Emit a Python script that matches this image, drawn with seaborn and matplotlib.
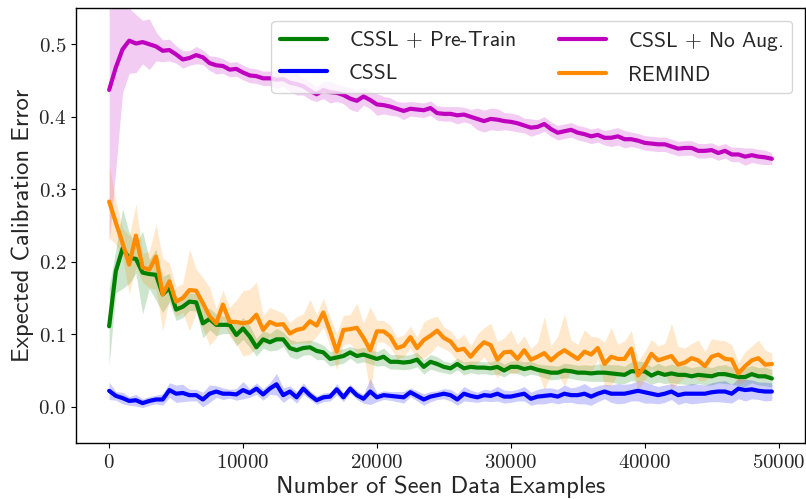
import numpy as np
import pandas as pd
import matplotlib
matplotlib.use("Agg")
import matplotlib.pyplot as plt
from matplotlib.ticker import FuncFormatter
import seaborn as sns

# number of seen data examples (evaluation every 500 examples)
seen = np.arange(0, 50000, 500)

pretrain_mean = [
    0.111, 0.187, 0.218, 0.205, 0.204, 0.185, 0.183, 0.182, 0.155, 0.164,
    0.134, 0.138, 0.145, 0.144, 0.115, 0.121, 0.113, 0.113, 0.113, 0.099,
    0.108, 0.097, 0.082, 0.093, 0.089, 0.093, 0.093, 0.081, 0.078, 0.081,
    0.082, 0.077, 0.075, 0.066, 0.068, 0.070, 0.075, 0.070, 0.072, 0.069,
    0.066, 0.069, 0.062, 0.062, 0.061, 0.062, 0.065, 0.055, 0.062, 0.059,
    0.055, 0.053, 0.059, 0.053, 0.055, 0.054, 0.054, 0.053, 0.055, 0.050,
    0.055, 0.055, 0.052, 0.054, 0.051, 0.049, 0.047, 0.047, 0.050, 0.049,
    0.047, 0.047, 0.046, 0.047, 0.047, 0.046, 0.045, 0.044, 0.049, 0.049,
    0.049, 0.043, 0.047, 0.044, 0.046, 0.044, 0.044, 0.042, 0.044, 0.043,
    0.042, 0.045, 0.045, 0.043, 0.041, 0.041, 0.045, 0.042, 0.042, 0.039,
]
pretrain_band = [
    0.053, 0.030, 0.055, 0.035, 0.020, 0.057, 0.020, 0.035, 0.025, 0.020,
    0.015, 0.015, 0.012, 0.012, 0.020, 0.015, 0.015, 0.012, 0.012, 0.015,
    0.015, 0.015, 0.012, 0.012, 0.012, 0.015, 0.010, 0.012, 0.012, 0.010,
    0.010, 0.012, 0.010, 0.010, 0.010, 0.010, 0.008, 0.010, 0.010, 0.010,
    0.010, 0.012, 0.010, 0.010, 0.010, 0.010, 0.010, 0.010, 0.010, 0.010,
    0.008, 0.008, 0.008, 0.009, 0.008, 0.009, 0.008, 0.009, 0.010, 0.009,
    0.008, 0.009, 0.010, 0.009, 0.008, 0.009, 0.010, 0.009, 0.010, 0.010,
    0.010, 0.011, 0.011, 0.012, 0.012, 0.012, 0.013, 0.012, 0.013, 0.014,
    0.013, 0.012, 0.013, 0.012, 0.013, 0.012, 0.013, 0.012, 0.012, 0.013,
    0.012, 0.012, 0.013, 0.012, 0.012, 0.013, 0.012, 0.012, 0.013, 0.012,
]

cssl_mean = [
    0.022, 0.015, 0.012, 0.008, 0.009, 0.005, 0.008, 0.010, 0.010, 0.023,
    0.018, 0.019, 0.016, 0.016, 0.010, 0.018, 0.021, 0.018, 0.018, 0.017,
    0.023, 0.019, 0.025, 0.017, 0.025, 0.031, 0.016, 0.021, 0.013, 0.025,
    0.016, 0.009, 0.013, 0.014, 0.024, 0.013, 0.025, 0.016, 0.011, 0.021,
    0.013, 0.016, 0.015, 0.014, 0.013, 0.020, 0.015, 0.010, 0.014, 0.016,
    0.018, 0.016, 0.010, 0.018, 0.015, 0.013, 0.016, 0.015, 0.018, 0.014,
    0.014, 0.016, 0.018, 0.011, 0.014, 0.015, 0.016, 0.014, 0.018, 0.016,
    0.016, 0.018, 0.014, 0.018, 0.021, 0.018, 0.018, 0.018, 0.020, 0.022,
    0.020, 0.018, 0.016, 0.018, 0.021, 0.016, 0.018, 0.018, 0.018, 0.018,
    0.020, 0.021, 0.021, 0.018, 0.025, 0.023, 0.024, 0.022, 0.021, 0.021,
]
cssl_band = [
    0.012, 0.006, 0.008, 0.006, 0.008, 0.006, 0.006, 0.006, 0.008, 0.010,
    0.012, 0.012, 0.008, 0.008, 0.010, 0.012, 0.008, 0.008, 0.006, 0.008,
    0.012, 0.006, 0.008, 0.008, 0.008, 0.015, 0.010, 0.008, 0.008, 0.008,
    0.006, 0.006, 0.006, 0.006, 0.008, 0.006, 0.006, 0.006, 0.006, 0.018,
    0.006, 0.006, 0.006, 0.007, 0.008, 0.006, 0.007, 0.008, 0.007, 0.006,
    0.007, 0.008, 0.008, 0.010, 0.008, 0.007, 0.008, 0.008, 0.010, 0.009,
    0.008, 0.008, 0.010, 0.009, 0.010, 0.011, 0.010, 0.010, 0.012, 0.010,
    0.012, 0.014, 0.012, 0.011, 0.010, 0.012, 0.014, 0.013, 0.012, 0.014,
    0.015, 0.013, 0.012, 0.012, 0.011, 0.013, 0.012, 0.014, 0.013, 0.012,
    0.013, 0.014, 0.015, 0.013, 0.014, 0.015, 0.013, 0.012, 0.013, 0.012,
]

noaug_mean = [
    0.437, 0.468, 0.493, 0.505, 0.501, 0.503, 0.500, 0.497, 0.491, 0.492,
    0.486, 0.479, 0.481, 0.485, 0.482, 0.474, 0.471, 0.470, 0.465, 0.466,
    0.461, 0.457, 0.456, 0.453, 0.453, 0.451, 0.452, 0.447, 0.445, 0.442,
    0.436, 0.431, 0.437, 0.434, 0.433, 0.430, 0.425, 0.422, 0.428, 0.423,
    0.417, 0.416, 0.414, 0.411, 0.408, 0.411, 0.410, 0.409, 0.412, 0.405,
    0.404, 0.404, 0.402, 0.403, 0.400, 0.397, 0.394, 0.397, 0.396, 0.394,
    0.393, 0.391, 0.388, 0.385, 0.386, 0.390, 0.383, 0.378, 0.380, 0.382,
    0.378, 0.376, 0.373, 0.375, 0.371, 0.371, 0.373, 0.369, 0.369, 0.367,
    0.364, 0.363, 0.362, 0.362, 0.359, 0.356, 0.357, 0.357, 0.353, 0.353,
    0.354, 0.350, 0.353, 0.348, 0.348, 0.345, 0.347, 0.345, 0.344, 0.342,
]
noaug_band = [
    0.210, 0.140, 0.060, 0.045, 0.040, 0.030, 0.035, 0.020, 0.015, 0.015,
    0.012, 0.012, 0.010, 0.012, 0.010, 0.010, 0.012, 0.010, 0.010, 0.010,
    0.010, 0.010, 0.010, 0.010, 0.010, 0.012, 0.010, 0.012, 0.015, 0.012,
    0.012, 0.010, 0.012, 0.015, 0.012, 0.012, 0.015, 0.015, 0.012, 0.012,
    0.015, 0.012, 0.012, 0.010, 0.012, 0.010, 0.010, 0.010, 0.010, 0.010,
    0.010, 0.010, 0.012, 0.010, 0.010, 0.015, 0.015, 0.015, 0.015, 0.012,
    0.012, 0.012, 0.010, 0.012, 0.010, 0.010, 0.010, 0.010, 0.010, 0.010,
    0.010, 0.010, 0.010, 0.010, 0.010, 0.012, 0.012, 0.012, 0.010, 0.010,
    0.010, 0.010, 0.010, 0.010, 0.010, 0.010, 0.010, 0.010, 0.010, 0.010,
    0.010, 0.010, 0.010, 0.010, 0.010, 0.012, 0.010, 0.010, 0.010, 0.008,
]

remind_mean = [
    0.283, 0.254, 0.226, 0.196, 0.236, 0.192, 0.189, 0.207, 0.155, 0.173,
    0.145, 0.150, 0.161, 0.160, 0.143, 0.125, 0.115, 0.141, 0.117, 0.117,
    0.115, 0.117, 0.127, 0.106, 0.117, 0.113, 0.114, 0.101, 0.106, 0.108,
    0.118, 0.112, 0.130, 0.104, 0.076, 0.106, 0.107, 0.109, 0.095, 0.078,
    0.104, 0.104, 0.097, 0.081, 0.084, 0.096, 0.081, 0.092, 0.098, 0.105,
    0.095, 0.090, 0.078, 0.080, 0.069, 0.080, 0.089, 0.085, 0.065, 0.075,
    0.076, 0.066, 0.078, 0.065, 0.069, 0.074, 0.064, 0.072, 0.078, 0.072,
    0.066, 0.076, 0.072, 0.081, 0.059, 0.069, 0.066, 0.066, 0.080, 0.043,
    0.056, 0.073, 0.064, 0.067, 0.070, 0.058, 0.061, 0.067, 0.064, 0.056,
    0.069, 0.072, 0.066, 0.065, 0.046, 0.056, 0.064, 0.067, 0.058, 0.059,
]
remind_band = [
    0.050, 0.030, 0.020, 0.040, 0.043, 0.020, 0.025, 0.045, 0.050, 0.025,
    0.020, 0.020, 0.056, 0.030, 0.035, 0.040, 0.020, 0.020, 0.020, 0.030,
    0.045, 0.045, 0.045, 0.020, 0.020, 0.020, 0.015, 0.015, 0.018, 0.020,
    0.030, 0.015, 0.020, 0.020, 0.025, 0.020, 0.020, 0.034, 0.020, 0.060,
    0.015, 0.015, 0.015, 0.015, 0.015, 0.015, 0.015, 0.025, 0.024, 0.020,
    0.015, 0.015, 0.015, 0.020, 0.015, 0.020, 0.020, 0.030, 0.025, 0.020,
    0.030, 0.020, 0.020, 0.015, 0.020, 0.050, 0.020, 0.025, 0.050, 0.020,
    0.020, 0.030, 0.025, 0.015, 0.030, 0.040, 0.020, 0.025, 0.025, 0.020,
    0.020, 0.020, 0.020, 0.020, 0.045, 0.025, 0.020, 0.020, 0.028, 0.020,
    0.025, 0.020, 0.025, 0.020, 0.015, 0.020, 0.020, 0.025, 0.020, 0.015,
]

methods = ["CSSL $+$ Pre-Train", "CSSL", "CSSL $+$ No Aug.", "REMIND"]
colors = ["green", "blue", "m", "darkorange"]
means = [pretrain_mean, cssl_mean, noaug_mean, remind_mean]
bands = [pretrain_band, cssl_band, noaug_band, remind_band]

frames = []
for name, mu, hw in zip(methods, means, bands):
    mu = np.asarray(mu)
    hw = np.asarray(hw)
    frames.append(pd.DataFrame({"method": name, "seen": seen, "ece": mu,
                                "lo": mu - hw, "hi": mu + hw}))
df = pd.concat(frames, ignore_index=True)

sns.set_style("ticks")
plt.rcParams["font.family"] = ["cmss10", "DejaVu Sans"]
plt.rcParams["mathtext.fontset"] = "cm"
plt.rcParams["axes.unicode_minus"] = False

fig = plt.figure(figsize=(8.06, 4.99), dpi=100)
ax = fig.add_axes([76 / 806, 1 - 443 / 499, (805 - 76) / 806, (443 - 8) / 499])

for name, color in zip(methods, colors):
    sub = df[df["method"] == name]
    sns.lineplot(data=sub, x="seen", y="ece", color=color, linewidth=3,
                 label=name, ax=ax, errorbar=None)
    ax.fill_between(sub["seen"], sub["lo"], sub["hi"], color=color,
                    alpha=0.2, linewidth=0)

ax.set_ylim(-0.05, 0.55)
ax.set_yticks([0.0, 0.1, 0.2, 0.3, 0.4, 0.5])
ax.set_xticks([0, 10000, 20000, 30000, 40000, 50000])
ax.yaxis.set_major_formatter(FuncFormatter(lambda v, p: f"${v:.1f}$"))
ax.xaxis.set_major_formatter(FuncFormatter(lambda v, p: f"${int(round(v))}$"))
ax.tick_params(axis="both", labelsize=15, color="black", length=3.5,
               width=0.8, direction="out")

for s in ax.spines.values():
    s.set_color("black")
    s.set_linewidth(1.0)
    s.set_visible(True)

ax.set_xlabel("Number of Seen Data Examples", fontsize=17.7, labelpad=3)
ax.set_ylabel("Expected Calibration Error", fontsize=17.7, labelpad=3)

leg = ax.legend(loc="upper right", ncol=2, fontsize=15.5, handlelength=2.2,
                handletextpad=1.0, columnspacing=2.0, labelspacing=0.6,
                borderaxespad=0.6, frameon=True, fancybox=True,
                edgecolor="0.8", framealpha=0.8)

fig.savefig("out.png", dpi=100)
